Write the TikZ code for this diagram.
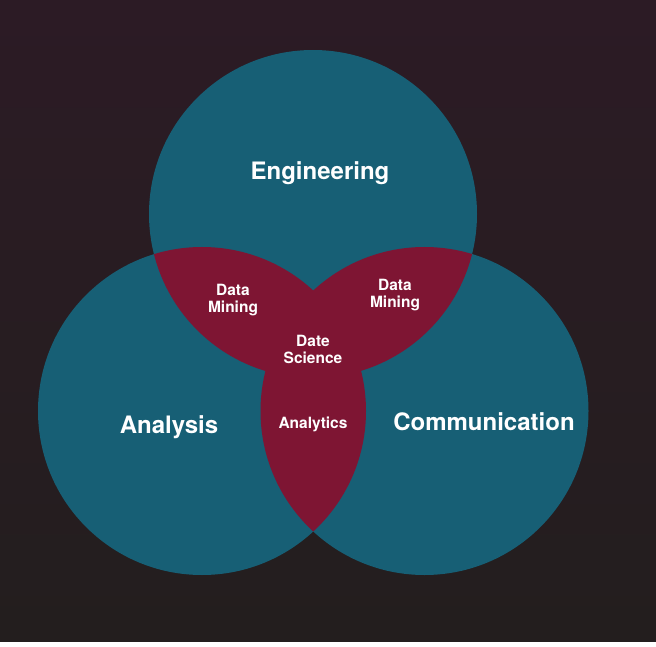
\documentclass[tikz,border=0pt]{standalone}
\usepackage{fontspec}
\setmainfont{TeX Gyre Heros}
\begin{document}
\definecolor{bgtop}{HTML}{2C1B25}
\definecolor{bgbot}{HTML}{231E1E}
\definecolor{teal}{HTML}{175F75}
\definecolor{wine}{HTML}{7E1533}
\begin{tikzpicture}[x=1pt,y=-1pt,
  big/.style={text=white,font=\bfseries\fontsize{24}{28}\selectfont},
  small/.style={text=white,font=\bfseries\fontsize{15.5}{17}\selectfont,align=center}]
\useasboundingbox (0,0) rectangle (656,647);
\fill[white] (0,0) rectangle (656,647);
\shade[top color=bgtop,bottom color=bgbot] (0,0) rectangle (656,641);
% three circles
\def\R{164}
\coordinate (ce) at (313,214);
\coordinate (ca) at (202,411);
\coordinate (cc) at (424.5,411);
\fill[teal] (ce) circle (\R);
\fill[teal] (ca) circle (\R);
\fill[teal] (cc) circle (\R);
% pairwise overlaps
\begin{scope}
  \clip (ce) circle (\R);
  \fill[wine] (ca) circle (\R);
  \fill[wine] (cc) circle (\R);
\end{scope}
\begin{scope}
  \clip (ca) circle (\R);
  \fill[wine] (cc) circle (\R);
\end{scope}
% labels
\node[big] (eng) at (320,173.5) {Engineering};
\node[big] (ana) at (169,427.5) {Analysis};
\node[big] (com) at (484,421.5) {Communication};
\node[small] (dm1) at (233,300) {Data\\Mining};
\node[small] (dm2) at (395,295) {Data\\Mining};
\node[small] (ds) at (313,349) {Date\\Science};
\node[small] (anl) at (313,424.5) {Analytics};
\end{tikzpicture}
\end{document}
